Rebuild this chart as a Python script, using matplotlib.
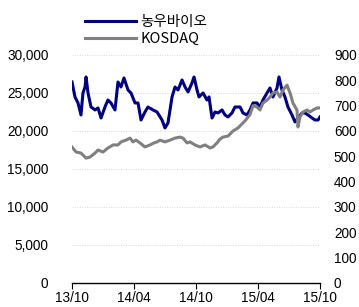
import numpy as np
import matplotlib
matplotlib.use("Agg")
import matplotlib.pyplot as plt
from matplotlib import font_manager

names = {f.name for f in font_manager.fontManager.ttflist}
if 'Liberation Sans Narrow' in names:
    tick_font, tick_size = 'Liberation Sans Narrow', 11
else:
    tick_font, tick_size = 'Liberation Sans', 9.8
plt.rcParams['font.family'] = [tick_font, 'DejaVu Sans']

# months since 2013/10
nw_month = [0, 0.29, 0.58, 0.87, 1.06, 1.26, 1.36, 1.55, 1.84, 2.23, 2.52, 2.81, 3.19, 3.48,
            3.77, 4.16, 4.45, 4.74, 5.03, 5.42, 5.71, 6.10, 6.39, 6.68, 7.06, 7.35, 7.84,
            8.23, 8.71, 9.00, 9.29, 9.68, 9.97, 10.26, 10.65, 10.94, 11.23, 11.61, 11.81,
            12.10, 12.29, 12.68, 13.06, 13.26, 13.55, 13.84, 14.13, 14.52, 14.81, 15.10,
            15.48, 15.77, 16.26, 16.55, 16.94, 17.23, 17.52, 17.90, 18.19, 18.48, 18.87,
            19.16, 19.45, 19.84, 20.03, 20.32, 20.61, 20.90, 21.29, 21.58, 21.87, 22.26,
            22.55, 22.84, 23.23, 23.52, 23.81, 24.0]
nw_price = [26450, 24480, 23690, 22110, 25000, 25790, 27110, 25000, 23160, 22770, 23030,
            21710, 23160, 24080, 23690, 22770, 26450, 25790, 26980, 25400, 25000, 23690,
            23690, 21450, 22500, 23160, 22770, 22500, 21450, 20400, 21060, 24480, 25790,
            25400, 26710, 25790, 25140, 26320, 27110, 25400, 24480, 25000, 24080, 24480,
            21710, 22500, 22370, 22770, 22110, 21850, 22370, 23160, 23160, 22370, 22110,
            22770, 23690, 23690, 23160, 24080, 25000, 25660, 24480, 25660, 27110, 25400,
            24480, 23160, 22110, 21190, 21710, 22370, 22370, 22110, 21710, 21450, 21450,
            21850]

kq_month = [0, 0.39, 0.87, 1.36, 1.74, 2.23, 2.52, 3.00, 3.48, 3.97, 4.45, 4.74, 5.23,
            5.61, 5.90, 6.19, 6.58, 7.06, 7.55, 7.94, 8.23, 8.52, 9.00, 9.48, 9.97, 10.45,
            10.74, 11.13, 11.42, 11.90, 12.39, 12.87, 13.36, 13.65, 14.03, 14.32, 14.61,
            15.10, 15.58, 16.06, 16.26, 16.74, 17.23, 17.52, 17.90, 18.19, 18.48, 18.87,
            19.16, 19.45, 19.84, 20.13, 20.42, 20.81, 21.10, 21.39, 21.77, 21.87, 22.06,
            22.36, 22.74, 23.03, 23.32, 23.71, 24.0]
kq_index = [537, 517, 513, 493, 497, 513, 525, 517, 533, 545, 545, 557, 564, 572, 557,
            564, 553, 537, 545, 553, 557, 564, 557, 564, 572, 576, 572, 553, 557, 545, 537,
            545, 533, 537, 553, 568, 576, 580, 600, 612, 620, 640, 665, 700, 695, 683, 710,
            722, 734, 750, 754, 734, 762, 781, 750, 710, 683, 616, 655, 675, 683, 675, 683,
            691, 691]

tick_pos = [0, 6, 12, 18, 24]
tick_lbl = ['13/10', '14/04', '14/10', '15/04', '15/10']

fig = plt.figure(figsize=(3.59, 3.07), dpi=100)
ax = fig.add_axes([72/359, 24/307, 248/359, 228/307])
ax2 = ax.twinx()

l1, = ax.plot(nw_month, nw_price, color='#000080', lw=2.2, solid_joinstyle='round')
l2, = ax2.plot(kq_month, kq_index, color='#808080', lw=2.2, solid_joinstyle='round')

ax.set_xlim(0, 24)
ax.set_ylim(0, 30000)
ax2.set_ylim(0, 900)
ax.set_yticks(np.arange(0, 30001, 5000))
ax.set_yticklabels([f'{v:,}' for v in range(0, 30001, 5000)], fontsize=tick_size)
ax2.set_yticks(np.arange(0, 901, 100))
ax2.set_yticklabels([str(v) for v in range(0, 901, 100)], fontsize=tick_size)
ax.set_xticks(tick_pos)
ax.set_xticklabels(tick_lbl, fontsize=tick_size)

ax.grid(axis='y', color='#d8d8d8', linestyle=(0, (1, 1.5)), lw=0.7)
for a in (ax, ax2):
    for s in ('top', 'left', 'right'):
        a.spines[s].set_visible(False)
ax.spines['bottom'].set_color('black')
ax.spines['bottom'].set_linewidth(1.0)
ax2.spines['bottom'].set_visible(False)
ax.tick_params(axis='y', length=0, pad=17)
ax2.tick_params(axis='y', length=0, pad=10)
ax.tick_params(axis='x', length=4, direction='out', pad=2, color='black')

fig.legend([l1, l2], ['농우바이오', 'KOSDAQ'], loc='upper left', bbox_to_anchor=(85/359, 1 - 15/307),
           frameon=False, handlelength=3.5, handletextpad=0.3, labelspacing=0.2,
           borderaxespad=0, borderpad=0,
           prop={'family': ['Noto Sans CJK KR', 'Liberation Sans'], 'size': 10.5})

fig.savefig('out.png', dpi=100)
